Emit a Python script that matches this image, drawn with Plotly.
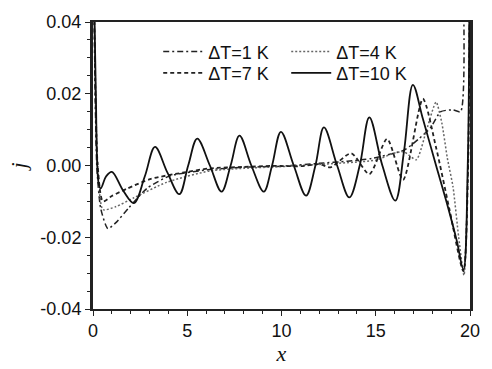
import plotly.graph_objects as go

# ---- data ----
x_dt1 = [0.05, 0.2, 0.41, 0.79, 1.2, 1.9, 2.86, 4.07, 6.1, 8.0, 10.0, 12.0, 13.5, 14.8, 16.5, 17.3, 17.9, 18.45, 19.1, 19.5, 19.65]
y_dt1 = [0.05, 0.0, -0.012, -0.0176, -0.016, -0.0118, -0.0064, -0.0029, -0.0012, -0.0005, -0.0002, 0.0006, 0.0012, 0.002, 0.0043, 0.0075, 0.0105, 0.015, 0.0155, 0.015, 0.05]

x_dt4 = [0.05, 0.25, 0.53, 1.2, 2.17, 3.9, 6.2, 8.0, 10.0, 12.0, 13.5, 15.0, 15.95, 16.5, 17.15, 17.7, 18.2, 18.5, 18.8, 19.1, 19.4, 19.68, 19.9, 19.98]
y_dt4 = [0.05, 0.0, -0.0123, -0.0115, -0.009, -0.0047, -0.0015, -0.0008, -0.0003, 0.0003, 0.0008, 0.0015, 0.0034, 0.0038, 0.0016, 0.01, 0.0177, 0.012, 0.002, -0.006, -0.02, -0.0306, 0.0, 0.05]

x_dt7 = [0.05, 0.25, 0.53, 1.0, 1.83, 3.03, 4.75, 6.2, 8.0, 9.5, 11.05, 12.0, 12.6, 13.7, 14.66, 15.6, 16.45, 17.5, 18.2, 18.9, 19.65, 19.9, 19.98]
y_dt7 = [0.05, 0.0, -0.010, -0.0085, -0.0064, -0.0038, -0.002, -0.0008, -0.0004, -0.0001, -0.0002, 0.0004, -0.0005, 0.0034, -0.0024, 0.0074, -0.004, 0.0186, 0.005, -0.012, -0.0295, 0.0, 0.05]

x_dt10 = [0.05, 0.15, 0.3, 0.41, 0.7, 1.0, 1.6, 2.17, 2.75, 3.29, 3.95, 4.58, 5.05, 5.53, 6.2, 6.82, 7.3, 7.77, 8.4, 9.06, 9.5, 9.97, 10.65, 11.3, 11.8, 12.25, 12.95, 13.6, 14.15, 14.66, 15.35, 16.04, 16.5, 16.97, 17.5, 18.2, 18.8, 19.3, 19.65, 19.88, 19.97]
y_dt10 = [0.05, 0.02, -0.005, -0.0064, -0.003, -0.0018, -0.007, -0.0105, -0.003, 0.0052, -0.002, -0.008, 0.0, 0.0075, 0.0, -0.0073, 0.0, 0.0083, 0.0, -0.0073, 0.0, 0.0094, 0.0, -0.0084, 0.0, 0.0106, 0.0, -0.0089, 0.0, 0.0134, 0.0, -0.0098, 0.004, 0.0225, 0.013, 0.0, -0.011, -0.021, -0.029, 0.0, 0.05]

names = ["ΔT=1 K", "ΔT=4 K", "ΔT=7 K", "ΔT=10 K"]

y_tickvals = [-0.04, -0.02, 0.0, 0.02, 0.04]
y_ticktext = ["-0.04", "-0.02", "0.00", "0.02", "0.04"]
x_tickvals = [0, 5, 10, 15, 20]
x_ticktext = ["0", "5", "10", "15", "20"]

fig = go.Figure()

fig.add_trace(go.Scatter(x=x_dt1, y=y_dt1, mode="lines", name=names[0], legend="legend",
                         line=dict(color="#222", width=1.5, dash="6px,3px,2px,3px", shape="spline", smoothing=0.6)))
fig.add_trace(go.Scatter(x=x_dt4, y=y_dt4, mode="lines", name=names[1], legend="legend",
                         line=dict(color="#666", width=1.5, dash="2px,2px", shape="spline", smoothing=0.6)))
fig.add_trace(go.Scatter(x=x_dt7, y=y_dt7, mode="lines", name=names[2], legend="legend2",
                         line=dict(color="#222", width=1.8, dash="4px,3px", shape="spline", smoothing=0.7)))
fig.add_trace(go.Scatter(x=x_dt10, y=y_dt10, mode="lines", name=names[3], legend="legend2",
                         line=dict(color="#111", width=1.8, shape="spline", smoothing=1.0)))

leg_common = dict(orientation="h", entrywidth=73, bgcolor="rgba(0,0,0,0)",
                  font=dict(family="Liberation Sans, Arial", size=18, color="#111"),
                  xanchor="left", yanchor="middle", tracegroupgap=0, itemwidth=40)

fig.update_layout(
    width=492, height=369,
    margin=dict(l=93, r=12, t=17, b=55),
    plot_bgcolor="white", paper_bgcolor="white",
    legend=dict(x=0.173, y=0.896, **leg_common),
    legend2=dict(x=0.173, y=0.822, **leg_common),
    xaxis=dict(range=[0, 20], tickmode="array", tickvals=x_tickvals, ticktext=x_ticktext,
               ticks="outside", ticklen=5, tickwidth=1.2, tickcolor="#222",
               minor=dict(dtick=1, ticks="outside", ticklen=3, tickcolor="#222"),
               showline=True, linecolor="#222", linewidth=1.5, mirror=True,
               showgrid=False, zeroline=False,
               tickfont=dict(family="Liberation Sans, Arial", size=18, color="#111"),
               title=dict(text="x", font=dict(family="Liberation Serif, Times New Roman", size=22, color="#111",
                                              style="italic"), standoff=0)),
    yaxis=dict(range=[-0.04, 0.04], tickmode="array", tickvals=y_tickvals, ticktext=y_ticktext,
               ticks="outside", ticklen=5, tickwidth=1.2, tickcolor="#222",
               minor=dict(dtick=0.005, tick0=0, ticks="outside", ticklen=3, tickcolor="#222"),
               showline=True, linecolor="#222", linewidth=3, mirror=True,
               showgrid=False, zeroline=False,
               tickfont=dict(family="Liberation Sans, Arial", size=18, color="#111"),
               title=dict(text="j", font=dict(family="Liberation Serif, Times New Roman", size=22, color="#111",
                                              style="italic"), standoff=8)),
)

fig.write_html("out.html")
